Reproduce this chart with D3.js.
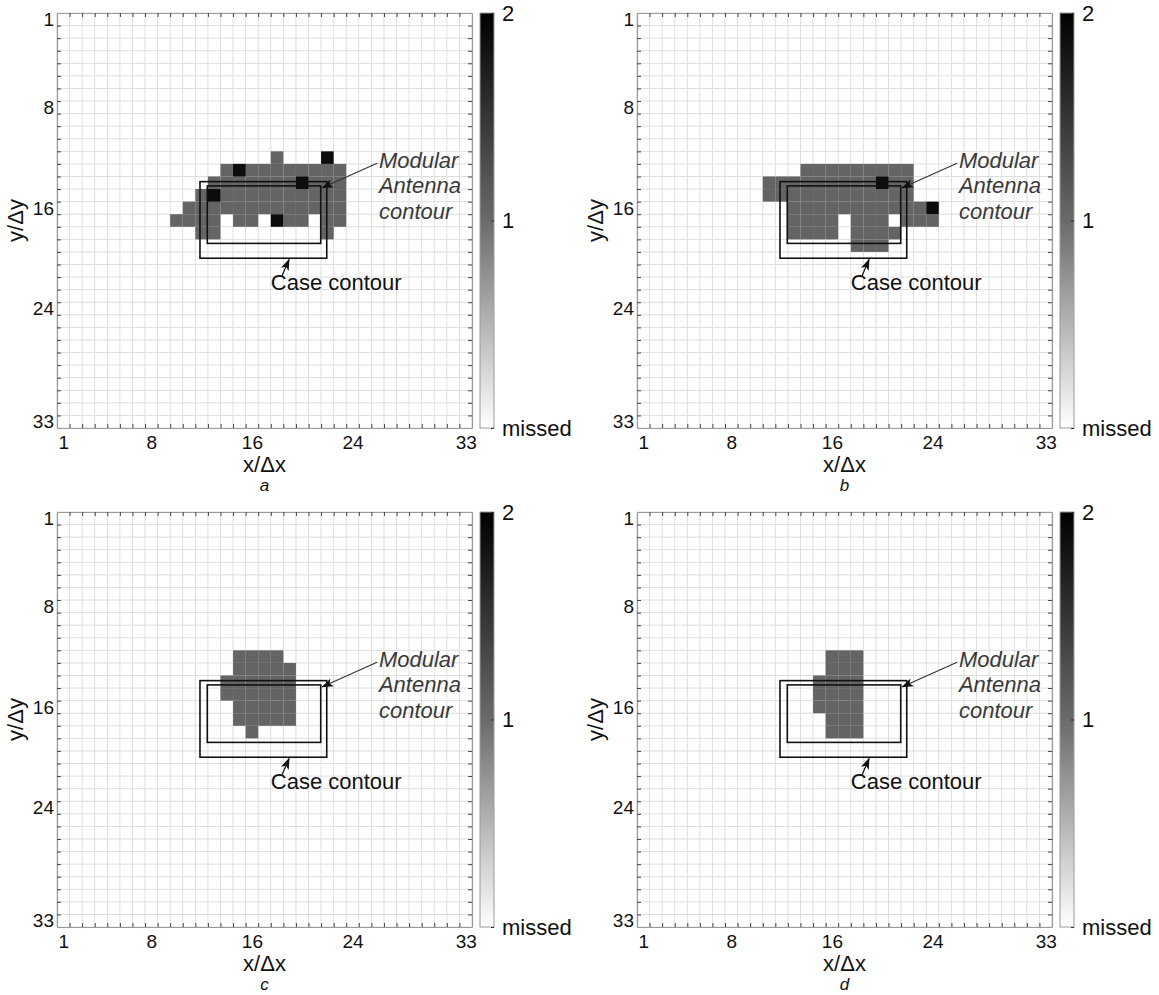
<!DOCTYPE html>
<html>
<head>
<meta charset="utf-8" />
<title>Detection maps</title>
<style>
  body { margin: 0; background: #fff; }
  svg text { font-family: "Liberation Sans", Arial, Helvetica, sans-serif; }
</style>
</head>
<body>
<script src="https://cdn.jsdelivr.net/npm/d3@7"></script>
<script>

// grid is 33 x 33 cells; values: 0 = missed, 1 = gray, 2 = black
const gridCount = 33
const tickLabels = [1, 8, 16, 24, 33]
const panelNames = ['a', 'b', 'c', 'd']

// gray runs per panel: [row, fromCol, toCol]
const grayA = [[12, 18, 18], [13, 14, 23], [14, 13, 23], [15, 12, 23], [16, 11, 23],
  [17, 10, 13], [17, 15, 16], [17, 19, 20], [17, 22, 23], [18, 12, 13], [18, 22, 22]]
const blackA = [[22, 12], [15, 13], [20, 14], [13, 15], [18, 17]]

const grayB = [[13, 14, 22], [14, 11, 22], [15, 11, 22], [16, 13, 23],
  [17, 13, 16], [17, 18, 20], [17, 22, 24], [18, 13, 16], [18, 18, 21], [19, 18, 20]]
const blackB = [[20, 14], [24, 16]]

const grayC = [[12, 15, 18], [13, 15, 19], [14, 14, 19], [15, 14, 19], [16, 15, 19],
  [17, 15, 19], [18, 16, 16]]
const blackC = []

const grayD = [[12, 16, 18], [13, 16, 18], [14, 15, 18], [15, 15, 18], [16, 15, 18],
  [17, 16, 18], [18, 16, 18]]
const blackD = []

// contours in cell units [x0, y0, x1, y1]
const caseContour = [11.87, 13.91, 21.95, 20.0]
const antennaContour = [12.45, 14.25, 21.47, 18.82]

const colorTicks = [0, 1, 2]
const colorTickText = ['missed', '1', '2']

const panels = [
  { name: panelNames[0], gray: grayA, black: blackA },
  { name: panelNames[1], gray: grayB, black: blackB },
  { name: panelNames[2], gray: grayC, black: blackC },
  { name: panelNames[3], gray: grayD, black: blackD }
]

const size = 415,
  origins = [[57, 13], [637, 13], [57, 512], [637, 512]]

const svg = d3.select('body').append('svg')
  .attr('width', 1159)
  .attr('height', 995)

const defs = svg.append('defs')
const grad = defs.append('linearGradient')
  .attr('id', 'cbar')
  .attr('x1', 0).attr('y1', 1).attr('x2', 0).attr('y2', 0)
grad.append('stop').attr('offset', '0%').attr('stop-color', '#ffffff')
grad.append('stop').attr('offset', '50%').attr('stop-color', '#6a6a6a')
grad.append('stop').attr('offset', '100%').attr('stop-color', '#000000')

defs.append('marker')
  .attr('id', 'arrow')
  .attr('viewBox', '0 0 10 10')
  .attr('refX', 9).attr('refY', 5)
  .attr('markerWidth', 12).attr('markerHeight', 12)
  .attr('markerUnits', 'userSpaceOnUse')
  .attr('orient', 'auto')
  .append('path')
  .attr('d', 'M0,1.5 L10,5 L0,8.5 L2.5,5 Z')
  .attr('fill', '#111')

const color = d3.scaleOrdinal().domain([1, 2]).range(['#646464', '#0c0c0c'])

const x = d3.scaleLinear().domain([0.5, gridCount + 0.5]).range([0, size])
const y = d3.scaleLinear().domain([0.5, gridCount + 0.5]).range([0, size])
const cbY = d3.scaleLinear().domain([0, 2]).range([size, 0])
const bounds = d3.range(0.5, gridCount + 1, 1)

function cellsOf(p) {
  let cells = []
  p.gray.forEach(function (r) {
    for (let c = r[1]; c <= r[2]; c++) cells.push({ x: c, y: r[0], v: 1 })
  })
  p.black.forEach(function (b) {
    cells.push({ x: b[0], y: b[1], v: 2 })
  })
  return cells
}

function drawPanel(p, i) {
  const g = svg.append('g')
    .attr('transform', `translate(${origins[i][0]}, ${origins[i][1]})`)

  // grid
  g.append('g').selectAll('line.gx')
    .data(bounds)
    .enter().append('line')
    .attr('x1', d => x(d)).attr('x2', d => x(d))
    .attr('y1', 0).attr('y2', size)
    .attr('stroke', '#dedede').attr('stroke-width', 1)
  g.append('g').selectAll('line.gy')
    .data(bounds)
    .enter().append('line')
    .attr('y1', d => y(d)).attr('y2', d => y(d))
    .attr('x1', 0).attr('x2', size)
    .attr('stroke', '#dedede').attr('stroke-width', 1)

  // cells
  g.append('g').selectAll('rect')
    .data(cellsOf(p))
    .enter().append('rect')
    .attr('x', d => x(d.x - 0.5))
    .attr('y', d => y(d.y - 0.5))
    .attr('width', x(1.5) - x(0.5))
    .attr('height', y(1.5) - y(0.5))
    .attr('fill', d => color(d.v))

  // frame with inward ticks
  const inner = [
    d3.axisTop(x).tickValues(bounds.slice(1, -1)).tickSizeInner(-4).tickSizeOuter(0).tickFormat(''),
    d3.axisBottom(x).tickValues(bounds.slice(1, -1)).tickSizeInner(-4).tickSizeOuter(0).tickFormat(''),
    d3.axisLeft(y).tickValues(bounds.slice(1, -1)).tickSizeInner(-4).tickSizeOuter(0).tickFormat(''),
    d3.axisRight(y).tickValues(bounds.slice(1, -1)).tickSizeInner(-4).tickSizeOuter(0).tickFormat('')
  ]
  const shifts = ['0,0', `0,${size}`, '0,0', `${size},0`]
  inner.forEach(function (ax, k) {
    const a = g.append('g').attr('transform', `translate(${shifts[k]})`).call(ax)
    a.select('.domain').attr('stroke', '#9a9a9a').attr('stroke-width', 1.2)
    a.selectAll('.tick line').attr('stroke', '#444').attr('stroke-width', 1)
  })

  // tick labels
  const yLab = g.append('g').call(d3.axisLeft(y).tickValues(tickLabels).tickSize(0).tickPadding(3))
  yLab.select('.domain').remove()
  yLab.selectAll('text').attr('font-size', 19).attr('fill', '#111')
    .attr('font-family', '"Liberation Sans", Arial, sans-serif')

  const xLab = g.append('g').attr('transform', `translate(0, ${size})`)
    .call(d3.axisBottom(x).tickValues(tickLabels).tickSize(0).tickPadding(8))
  xLab.select('.domain').remove()
  xLab.selectAll('text').attr('font-size', 19).attr('fill', '#111')
    .attr('font-family', '"Liberation Sans", Arial, sans-serif')

  // axis titles
  g.append('text')
    .attr('x', size / 2).attr('y', size + 44)
    .attr('text-anchor', 'middle')
    .attr('font-size', 22).attr('fill', '#111')
    .text('x/Δx')
  g.append('text')
    .attr('transform', `translate(-34, ${size / 2}) rotate(-90)`)
    .attr('text-anchor', 'middle')
    .attr('font-size', 22).attr('fill', '#111')
    .text('y/Δy')
  g.append('text')
    .attr('x', size / 2).attr('y', size + 63)
    .attr('text-anchor', 'middle')
    .attr('font-size', 17).attr('font-style', 'italic').attr('fill', '#111')
    .text(p.name)

  // contours
  ;[caseContour, antennaContour].forEach(function (c) {
    g.append('rect')
      .attr('x', x(c[0])).attr('y', y(c[1]))
      .attr('width', x(c[2]) - x(c[0]))
      .attr('height', y(c[3]) - y(c[1]))
      .attr('fill', 'none')
      .attr('stroke', '#111').attr('stroke-width', 1.6)
  })

  // annotations
  const mod = g.append('text')
    .attr('x', x(26.1)).attr('y', y(12.8))
    .attr('font-size', 22).attr('font-style', 'italic').attr('fill', '#3a3a3a')
  ;['Modular', 'Antenna', 'contour'].forEach(function (t, k) {
    mod.append('tspan').attr('x', x(26.1)).attr('dy', k === 0 ? 0 : 25.5).text(t)
  })
  g.append('line')
    .attr('x1', x(25.95)).attr('y1', y(12.45))
    .attr('x2', x(21.6)).attr('y2', y(14.4))
    .attr('stroke', '#333').attr('stroke-width', 1.2)
    .attr('marker-end', 'url(#arrow)')

  g.append('text')
    .attr('x', x(17.5)).attr('y', y(22.5))
    .attr('font-size', 22).attr('fill', '#111')
    .text('Case contour')
  g.append('line')
    .attr('x1', x(18.4)).attr('y1', y(21.4))
    .attr('x2', x(18.95)).attr('y2', y(20.1))
    .attr('stroke', '#111').attr('stroke-width', 1.2)
    .attr('marker-end', 'url(#arrow)')

  // colorbar
  const cb = g.append('g').attr('transform', `translate(${size + 8}, 0)`)
  cb.append('rect')
    .attr('x', 0).attr('y', 0)
    .attr('width', 14).attr('height', size)
    .attr('fill', 'url(#cbar)')
    .attr('stroke', '#9a9a9a').attr('stroke-width', 1)
  const cbAxis = cb.append('g').attr('transform', 'translate(14, 0)')
    .call(d3.axisRight(cbY).tickValues(colorTicks).tickSizeInner(-3).tickSizeOuter(0)
      .tickPadding(8).tickFormat((d, k) => colorTickText[k]))
  cbAxis.select('.domain').remove()
  cbAxis.selectAll('.tick line').attr('stroke', '#333')
  cbAxis.selectAll('text').attr('font-size', 22).attr('fill', '#111')
    .attr('font-family', '"Liberation Sans", Arial, sans-serif')
}

panels.forEach(drawPanel)

</script>
</body>
</html>
